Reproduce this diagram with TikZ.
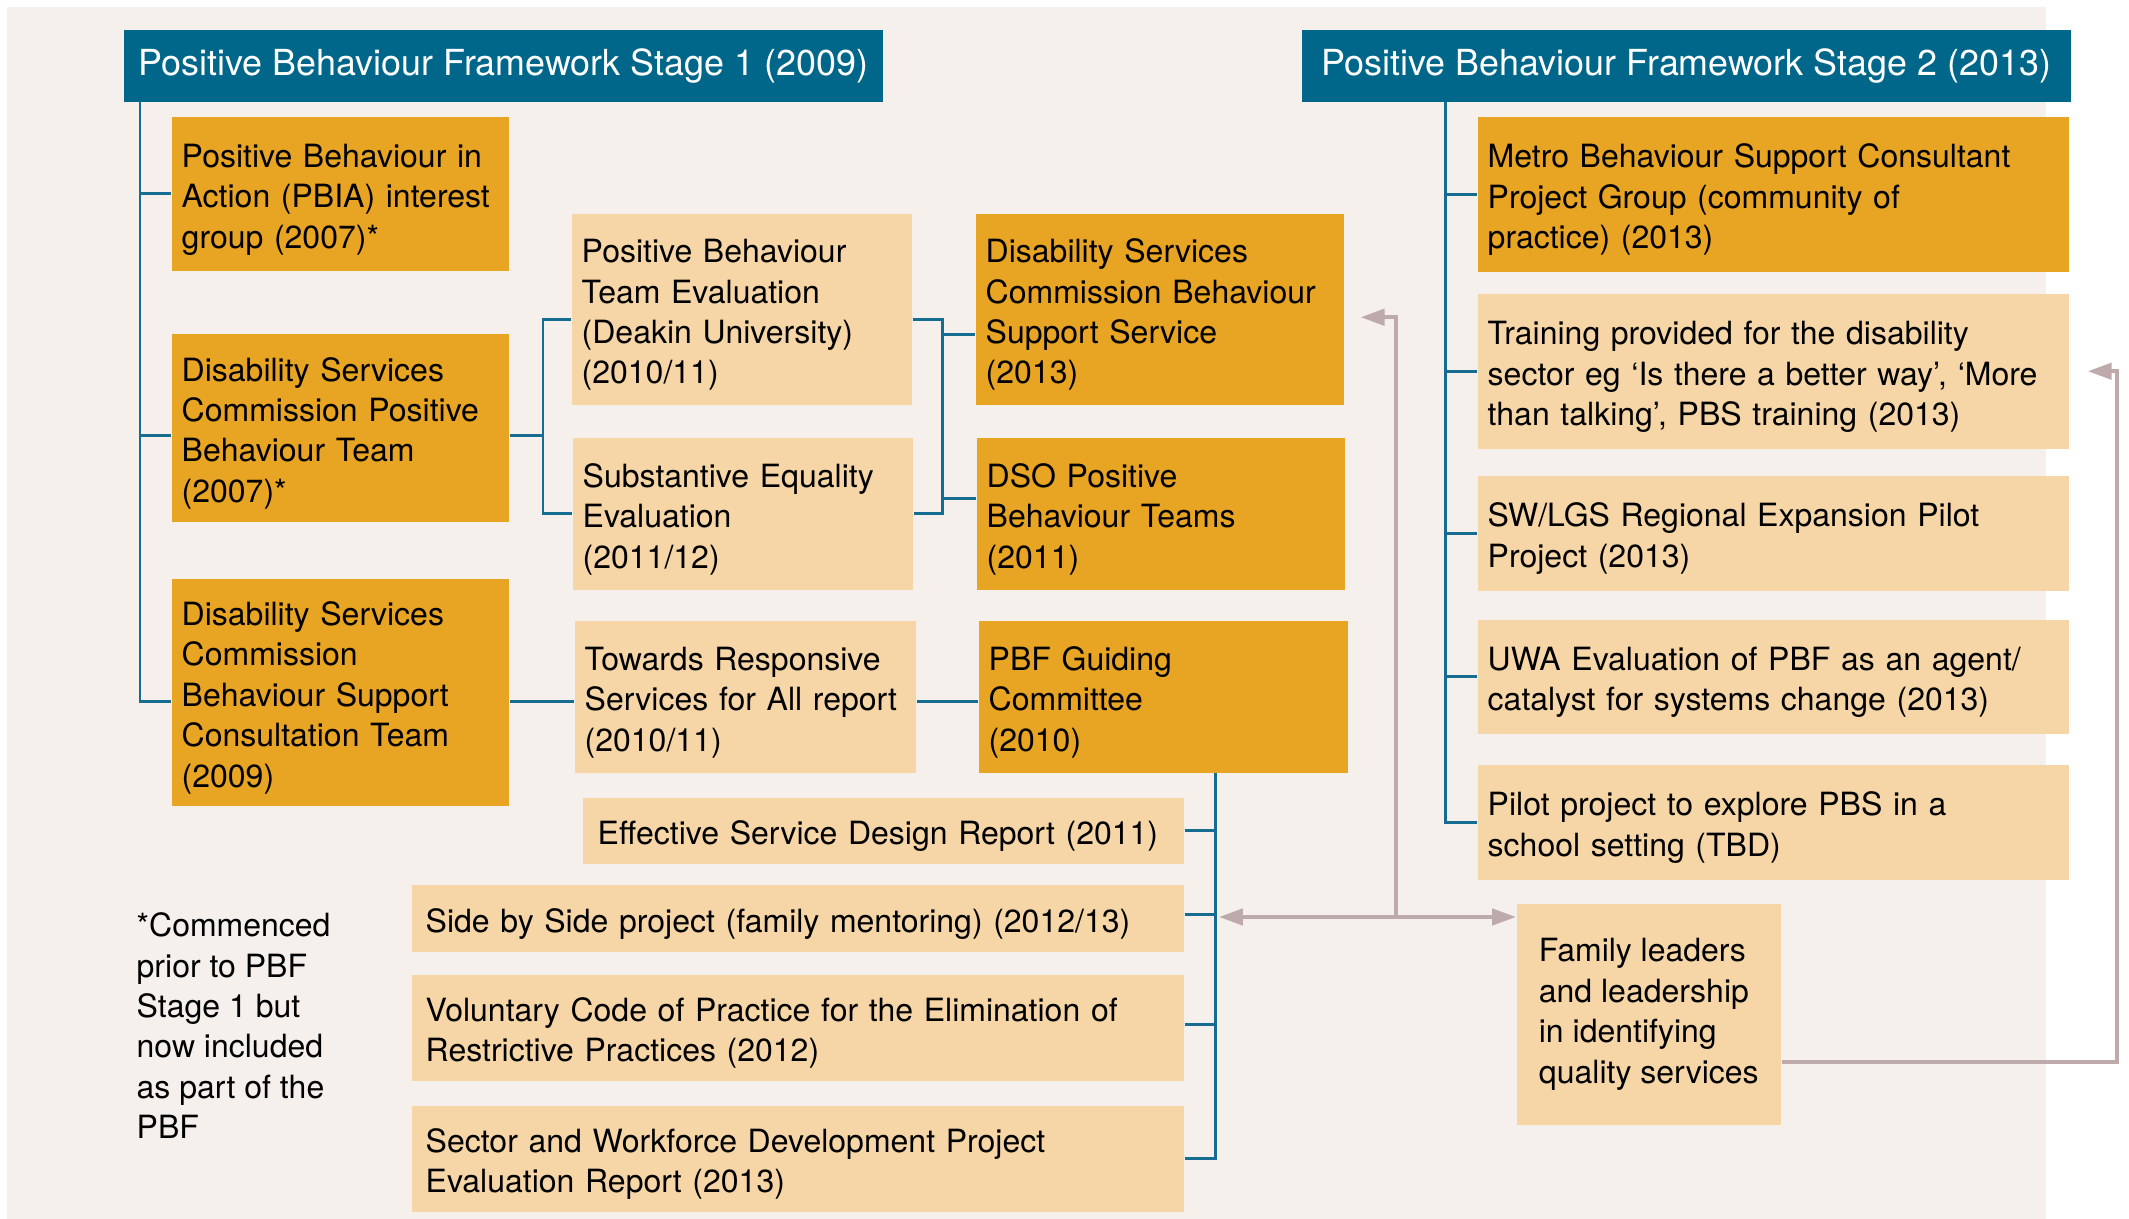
\documentclass[tikz,border=0pt]{standalone}
\usepackage{fontspec}
\setmainfont{TeX Gyre Heros}
\usepackage{tikz}
\usetikzlibrary{
    arrows.meta,
    positioning,
    calc
}
\definecolor{stageteal}{RGB}{0,103,138}
\definecolor{darkgold}{RGB}{232,164,35}
\definecolor{lightgold}{RGB}{246,214,166}
\definecolor{paper}{RGB}{245,240,235}
\definecolor{linkblue}{RGB}{22,108,145}
\definecolor{loopgray}{RGB}{190,170,170}
\newcommand{\bodyfont}{\fontsize{9.1pt}{11.5pt}\selectfont}
\newcommand{\headfont}{\fontsize{10.2pt}{12pt}\selectfont}
% no broken words inside the boxes
\hyphenpenalty=10000
\exhyphenpenalty=10000
\tikzset{
    % Stage headers
    stagehead/.style={
        rectangle,
        fill=stageteal,
        text=white,
        anchor=north west,
        minimum height=0.725cm,
        inner xsep=0pt,
        align=center,
        font=\headfont
    },
    % Projects
    darkbox/.style={
        rectangle,
        fill=darkgold,
        anchor=north west,
        inner xsep=0.1cm,
        inner ysep=0pt,
        align=left,
        font=\bodyfont,
        execute at begin node={\rule{0pt}{9.9pt}}
    },
    lightbox/.style={
        darkbox,
        fill=lightgold
    },
    % Connectors
    link/.style={
        draw=linkblue,
        line width=0.85pt
    },
    feedback/.style={
        draw=loopgray,
        line width=1.15pt,
        -{Triangle[length=6.8pt,width=4.6pt]}
    },
    footnote/.style={
        anchor=north west,
        align=left,
        inner sep=0pt,
        font=\bodyfont
    }
}

\begin{document}
\begin{tikzpicture}[x=0.01cm, y=-0.01cm]

    \useasboundingbox (0,0) rectangle (2129,1219);
    \fill[paper] (7,7) rectangle (2046,1219);

    % Stage 1
    \node[stagehead, minimum width=7.59cm] (stageone) at (123,29) {Positive Behaviour Framework Stage 1 (2009)};
    \node[darkbox, text width=3.17cm, minimum height=1.54cm] (pbia) at (171,116) {Positive Behaviour in\\Action (PBIA) interest\\group (2007)*};
    \node[darkbox, text width=3.17cm, minimum height=1.88cm] (dscpbt) at (171,333) {Disability Services\\Commission Positive\\Behaviour Team\\(2007)*};
    \node[darkbox, text width=3.17cm, minimum height=2.27cm] (dscbsct) at (171,578) {Disability Services\\Commission\\Behaviour Support\\Consultation Team\\(2009)};

    % Evaluations and reports
    \node[lightbox, text width=3.2cm, minimum height=1.91cm] (pbteval) at (571,213) {Positive Behaviour\\Team Evaluation\\(Deakin University)\\(2010/11)};
    \node[lightbox, text width=3.2cm, minimum height=1.52cm] (seeval) at (572,437) {Substantive Equality\\Evaluation\\(2011/12)};
    \node[lightbox, text width=3.21cm, minimum height=1.52cm] (towards) at (574,620) {Towards Responsive\\Services for All report\\(2010/11)};

    % Services and committee
    \node[darkbox, text width=3.48cm, minimum height=1.91cm] (dscbss) at (975,213) {Disability Services\\Commission Behaviour\\Support Service\\(2013)};
    \node[darkbox, text width=3.48cm, minimum height=1.52cm] (dsoteams) at (976,437) {DSO Positive\\Behaviour Teams\\(2011)};
    \node[darkbox, text width=3.49cm, minimum height=1.52cm] (guiding) at (978,620) {PBF Guiding\\Committee\\(2010)};

    % Guiding committee outputs
    \node[lightbox, inner xsep=0.15cm, text width=5.71cm, minimum height=0.66cm] (esd) at (582,797) {Effective Service Design Report (2011)};
    \node[lightbox, inner xsep=0.14cm, text width=7.44cm, minimum height=0.67cm] (sidebyside) at (411,884) {Side by Side project (family mentoring) (2012/13)};
    \node[lightbox, inner xsep=0.14cm, text width=7.44cm, minimum height=1.06cm] (voluntary) at (411,974) {Voluntary Code of Practice for the Elimination of\\Restrictive Practices (2012)};
    \node[lightbox, inner xsep=0.14cm, text width=7.44cm, minimum height=1.06cm] (workforce) at (411,1105) {Sector and Workforce Development Project\\Evaluation Report (2013)};

    \node[footnote] (note) at (136,912) {*Commenced\\prior to PBF\\Stage 1 but\\now included\\as part of the\\PBF};

    % Stage 2
    \node[stagehead, minimum width=7.69cm] (stagetwo) at (1301,29) {Positive Behaviour Framework Stage 2 (2013)};
    \node[darkbox, text width=5.71cm, minimum height=1.55cm] (metro) at (1477,116) {Metro Behaviour Support Consultant\\Project Group (community of\\practice) (2013)};
    \node[lightbox, text width=5.71cm, minimum height=1.55cm] (training) at (1477,293) {Training provided for the disability\\sector eg ‘Is there a better way’, ‘More\\than talking’, PBS training (2013)};
    \node[lightbox, text width=5.71cm, minimum height=1.15cm] (regional) at (1477,475) {SW/LGS Regional Expansion Pilot\\Project (2013)};
    \node[lightbox, text width=5.71cm, minimum height=1.14cm] (uwa) at (1477,619) {UWA Evaluation of PBF as an agent/\\catalyst for systems change (2013)};
    \node[lightbox, text width=5.71cm, minimum height=1.15cm] (pilot) at (1477,764) {Pilot project to explore PBS in a\\school setting (TBD)};
    \node[lightbox, minimum width=2.64cm, minimum height=2.21cm] (family) at (1516,903) {Family leaders\\and leadership\\in identifying\\quality services};

    % Trunks and brackets
    \coordinate (trunkone) at (140,101);
    \coordinate (trunktwo) at (1445,102);
    \coordinate (lbrack) at (543,0);
    \coordinate (rbrack) at (942,0);
    \coordinate (lowtrunk) at (1215,0);
    \coordinate (hub) at (1396,917);
    \coordinate (loop) at (2117,0);

    % Stage 1 tree
    \draw[link] (trunkone) |- ([yshift=-0.05cm]dscbsct.west |- towards.west);
    \draw[link] (trunkone |- pbia.west) -- (pbia.west);
    \draw[link] ([yshift=-0.08cm]trunkone |- dscpbt.west) -- ([yshift=-0.08cm]dscpbt.west);
    \draw[link] ([yshift=-0.08cm]dscpbt.east) -- ([yshift=-0.08cm]lbrack |- dscpbt.east);
    \draw[link] ([yshift=-0.1cm]pbteval.west) -| (lbrack |- seeval.west) -- (seeval.west);
    \draw[link] ([yshift=-0.1cm]pbteval.east) -| (rbrack |- seeval.east) -- (seeval.east);
    \draw[link] ([yshift=-0.25cm]rbrack |- dscbss.west) -- ([yshift=-0.25cm]dscbss.west);
    \draw[link] ([yshift=0.15cm]rbrack |- dsoteams.west) -- ([yshift=0.15cm]dsoteams.west);
    \draw[link] ([yshift=-0.05cm]dscbsct.east |- towards.west) -- ([yshift=-0.05cm]towards.west);
    \draw[link] ([yshift=-0.05cm]towards.east) -- ([yshift=-0.05cm]guiding.west);

    % Guiding committee tree
    \draw[link] (lowtrunk |- guiding.south) |- (workforce.east);
    \draw[link] (esd.east) -- (lowtrunk |- esd.east);
    \draw[link] ([yshift=0.04cm]sidebyside.east) -- ([yshift=0.04cm]lowtrunk |- sidebyside.east);
    \draw[link] ([yshift=0.03cm]voluntary.east) -- ([yshift=0.03cm]lowtrunk |- voluntary.east);

    % Stage 2 tree
    \draw[link] (trunktwo) |- (pilot.west);
    \foreach \item in {metro, training, regional, uwa}
        \draw[link] (trunktwo |- \item.west) -- (\item.west);

    % Feedback loops
    \draw[feedback] (hub) -- ([xshift=0.04cm]lowtrunk |- hub);
    \draw[feedback] (hub) -- (family.west |- hub);
    \draw[feedback] (hub) |- ([xshift=0.16cm,yshift=-0.08cm]dscbss.east);
    \draw[feedback] ([yshift=-0.48cm]family.east) -| (loop |- training.east) -- ([xshift=0.18cm]training.east);

\end{tikzpicture}
\end{document}
